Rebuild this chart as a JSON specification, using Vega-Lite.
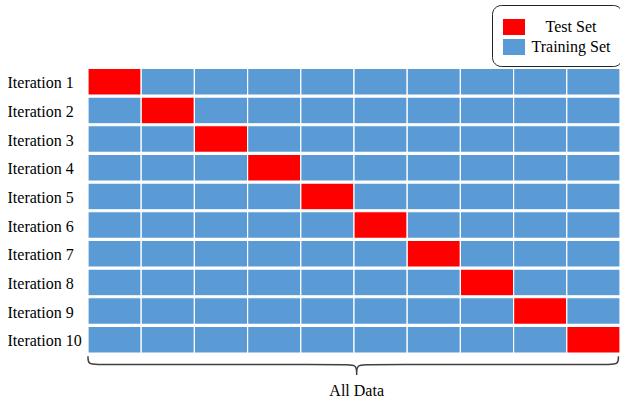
{
  "$schema": "https://vega.github.io/schema/vega-lite/v6.json",
  "autosize": {"type": "none"},
  "padding": {"left": 88, "top": 69, "right": 0, "bottom": 0},
  "width": 532,
  "height": 338,
  "background": "white",
  "config": {"view": {"stroke": null}, "font": "Liberation Serif"},
  "datasets": {
    "cells": [
      {"iter": 1, "fold": 1, "set": "Test Set"}, {"iter": 1, "fold": 2, "set": "Training Set"}, {"iter": 1, "fold": 3, "set": "Training Set"}, {"iter": 1, "fold": 4, "set": "Training Set"}, {"iter": 1, "fold": 5, "set": "Training Set"}, {"iter": 1, "fold": 6, "set": "Training Set"}, {"iter": 1, "fold": 7, "set": "Training Set"}, {"iter": 1, "fold": 8, "set": "Training Set"}, {"iter": 1, "fold": 9, "set": "Training Set"}, {"iter": 1, "fold": 10, "set": "Training Set"},
      {"iter": 2, "fold": 1, "set": "Training Set"}, {"iter": 2, "fold": 2, "set": "Test Set"}, {"iter": 2, "fold": 3, "set": "Training Set"}, {"iter": 2, "fold": 4, "set": "Training Set"}, {"iter": 2, "fold": 5, "set": "Training Set"}, {"iter": 2, "fold": 6, "set": "Training Set"}, {"iter": 2, "fold": 7, "set": "Training Set"}, {"iter": 2, "fold": 8, "set": "Training Set"}, {"iter": 2, "fold": 9, "set": "Training Set"}, {"iter": 2, "fold": 10, "set": "Training Set"},
      {"iter": 3, "fold": 1, "set": "Training Set"}, {"iter": 3, "fold": 2, "set": "Training Set"}, {"iter": 3, "fold": 3, "set": "Test Set"}, {"iter": 3, "fold": 4, "set": "Training Set"}, {"iter": 3, "fold": 5, "set": "Training Set"}, {"iter": 3, "fold": 6, "set": "Training Set"}, {"iter": 3, "fold": 7, "set": "Training Set"}, {"iter": 3, "fold": 8, "set": "Training Set"}, {"iter": 3, "fold": 9, "set": "Training Set"}, {"iter": 3, "fold": 10, "set": "Training Set"},
      {"iter": 4, "fold": 1, "set": "Training Set"}, {"iter": 4, "fold": 2, "set": "Training Set"}, {"iter": 4, "fold": 3, "set": "Training Set"}, {"iter": 4, "fold": 4, "set": "Test Set"}, {"iter": 4, "fold": 5, "set": "Training Set"}, {"iter": 4, "fold": 6, "set": "Training Set"}, {"iter": 4, "fold": 7, "set": "Training Set"}, {"iter": 4, "fold": 8, "set": "Training Set"}, {"iter": 4, "fold": 9, "set": "Training Set"}, {"iter": 4, "fold": 10, "set": "Training Set"},
      {"iter": 5, "fold": 1, "set": "Training Set"}, {"iter": 5, "fold": 2, "set": "Training Set"}, {"iter": 5, "fold": 3, "set": "Training Set"}, {"iter": 5, "fold": 4, "set": "Training Set"}, {"iter": 5, "fold": 5, "set": "Test Set"}, {"iter": 5, "fold": 6, "set": "Training Set"}, {"iter": 5, "fold": 7, "set": "Training Set"}, {"iter": 5, "fold": 8, "set": "Training Set"}, {"iter": 5, "fold": 9, "set": "Training Set"}, {"iter": 5, "fold": 10, "set": "Training Set"},
      {"iter": 6, "fold": 1, "set": "Training Set"}, {"iter": 6, "fold": 2, "set": "Training Set"}, {"iter": 6, "fold": 3, "set": "Training Set"}, {"iter": 6, "fold": 4, "set": "Training Set"}, {"iter": 6, "fold": 5, "set": "Training Set"}, {"iter": 6, "fold": 6, "set": "Test Set"}, {"iter": 6, "fold": 7, "set": "Training Set"}, {"iter": 6, "fold": 8, "set": "Training Set"}, {"iter": 6, "fold": 9, "set": "Training Set"}, {"iter": 6, "fold": 10, "set": "Training Set"},
      {"iter": 7, "fold": 1, "set": "Training Set"}, {"iter": 7, "fold": 2, "set": "Training Set"}, {"iter": 7, "fold": 3, "set": "Training Set"}, {"iter": 7, "fold": 4, "set": "Training Set"}, {"iter": 7, "fold": 5, "set": "Training Set"}, {"iter": 7, "fold": 6, "set": "Training Set"}, {"iter": 7, "fold": 7, "set": "Test Set"}, {"iter": 7, "fold": 8, "set": "Training Set"}, {"iter": 7, "fold": 9, "set": "Training Set"}, {"iter": 7, "fold": 10, "set": "Training Set"},
      {"iter": 8, "fold": 1, "set": "Training Set"}, {"iter": 8, "fold": 2, "set": "Training Set"}, {"iter": 8, "fold": 3, "set": "Training Set"}, {"iter": 8, "fold": 4, "set": "Training Set"}, {"iter": 8, "fold": 5, "set": "Training Set"}, {"iter": 8, "fold": 6, "set": "Training Set"}, {"iter": 8, "fold": 7, "set": "Training Set"}, {"iter": 8, "fold": 8, "set": "Test Set"}, {"iter": 8, "fold": 9, "set": "Training Set"}, {"iter": 8, "fold": 10, "set": "Training Set"},
      {"iter": 9, "fold": 1, "set": "Training Set"}, {"iter": 9, "fold": 2, "set": "Training Set"}, {"iter": 9, "fold": 3, "set": "Training Set"}, {"iter": 9, "fold": 4, "set": "Training Set"}, {"iter": 9, "fold": 5, "set": "Training Set"}, {"iter": 9, "fold": 6, "set": "Training Set"}, {"iter": 9, "fold": 7, "set": "Training Set"}, {"iter": 9, "fold": 8, "set": "Training Set"}, {"iter": 9, "fold": 9, "set": "Test Set"}, {"iter": 9, "fold": 10, "set": "Training Set"},
      {"iter": 10, "fold": 1, "set": "Training Set"}, {"iter": 10, "fold": 2, "set": "Training Set"}, {"iter": 10, "fold": 3, "set": "Training Set"}, {"iter": 10, "fold": 4, "set": "Training Set"}, {"iter": 10, "fold": 5, "set": "Training Set"}, {"iter": 10, "fold": 6, "set": "Training Set"}, {"iter": 10, "fold": 7, "set": "Training Set"}, {"iter": 10, "fold": 8, "set": "Training Set"}, {"iter": 10, "fold": 9, "set": "Training Set"}, {"iter": 10, "fold": 10, "set": "Test Set"}
    ],
    "brace": [
      {"o": 1, "u": 0, "v": 10.02},
      {"o": 2, "u": 0, "v": 10.31},
      {"o": 3, "u": 0.2, "v": 10.31},
      {"o": 4, "u": 4.85, "v": 10.31},
      {"o": 5, "u": 5.05, "v": 10.31},
      {"o": 6, "u": 5.05, "v": 10.67},
      {"o": 7, "u": 5.05, "v": 10.67},
      {"o": 8, "u": 5.05, "v": 10.67},
      {"o": 9, "u": 5.05, "v": 10.31},
      {"o": 10, "u": 5.25, "v": 10.31},
      {"o": 11, "u": 9.77, "v": 10.31},
      {"o": 12, "u": 9.97, "v": 10.31},
      {"o": 13, "u": 9.97, "v": 10.02}
    ],
    "label": [{"u": 5.05, "v": 11.23, "text": "All Data"}]
  },
  "layer": [
    {
      "data": {"name": "cells"},
      "transform": [
        {"calculate": "datum.fold - 1", "as": "x0"},
        {"calculate": "datum.iter - 1.02", "as": "y0"},
        {"calculate": "datum.iter - 0.09", "as": "y1"}
      ],
      "mark": {"type": "rect", "stroke": "white", "strokeWidth": 1.2},
      "encoding": {
        "x": {"field": "x0", "type": "quantitative", "scale": {"domain": [0, 10], "nice": false, "zero": false}, "axis": null},
        "x2": {"field": "fold"},
        "y": {"field": "y0", "type": "quantitative", "scale": {"domain": [0, 11.79], "nice": false, "zero": false, "reverse": true},
          "axis": {"values": [0.445, 1.445, 2.445, 3.445, 4.445, 5.445, 6.445, 7.445, 8.445, 9.445], "tickCount": 30,
            "labelExpr": "'Iteration ' + (floor(datum.value) + 1)", "title": null, "ticks": false, "tickSize": 0, "domain": false, "grid": false,
            "labelOverlap": false, "labelBound": false, "labelFlush": false,
            "labelAlign": "left", "labelPadding": 81, "labelFont": "Liberation Serif", "labelFontSize": 16, "labelColor": "black", "labelBaseline": "middle", "labelOffset": 1}},
        "y2": {"field": "y1"},
        "color": {"field": "set", "type": "nominal",
          "scale": {"domain": ["Test Set", "Training Set"], "range": ["#ff0000", "#5b9bd5"]},
          "legend": {"title": null, "orient": "none", "legendX": 404, "legendY": -64,
            "strokeColor": "#222222", "cornerRadius": 9, "padding": 11, "fillColor": "white",
            "symbolType": "M-1,-0.727L1,-0.727L1,0.727L-1,0.727Z", "symbolSize": 484, "symbolStrokeWidth": 0, "symbolOpacity": 1,
            "labelFont": "Liberation Serif", "labelFontSize": 16, "labelColor": "black", "labelAlign": "center", "labelOffset": 46, "rowPadding": 1}}
      }
    },
    {
      "data": {"name": "brace"},
      "mark": {"type": "line", "interpolate": "basis", "color": "#404040", "strokeWidth": 1.5},
      "encoding": {
        "x": {"field": "u", "type": "quantitative"},
        "y": {"field": "v", "type": "quantitative"},
        "order": {"field": "o"}
      }
    },
    {
      "data": {"name": "label"},
      "mark": {"type": "text", "font": "Liberation Serif", "fontSize": 16, "color": "black", "baseline": "middle", "align": "center"},
      "encoding": {
        "x": {"field": "u", "type": "quantitative"},
        "y": {"field": "v", "type": "quantitative"},
        "text": {"field": "text"}
      }
    }
  ]
}
